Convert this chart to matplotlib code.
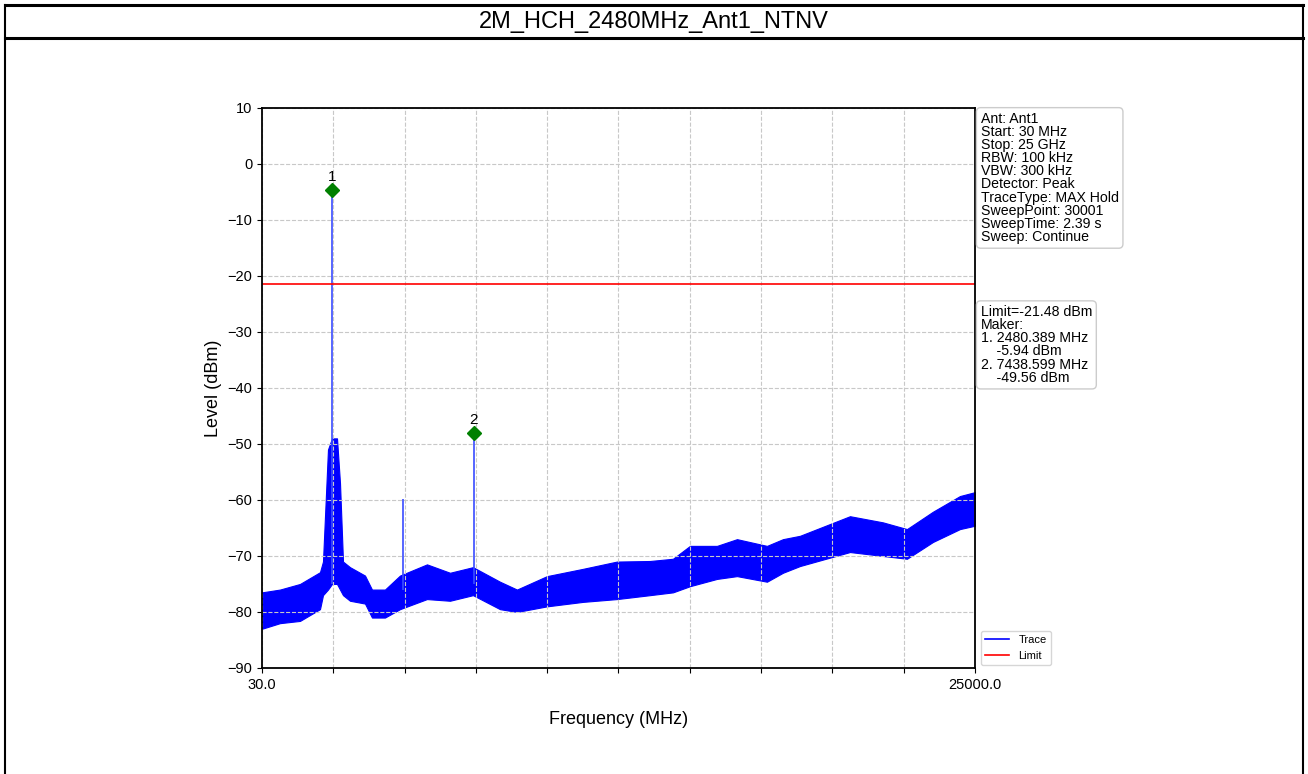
import matplotlib
matplotlib.use("Agg")
import matplotlib.pyplot as plt
from matplotlib.lines import Line2D

plt.rcParams["font.family"] = ["Liberation Sans", "DejaVu Sans"]

title = "2M_HCH_2480MHz_Ant1_NTNV"

# trace envelope (MHz, dBm)
env_freq = [30, 660, 1361, 2061, 2166, 2341, 2481, 2657, 2762, 2867, 3112,
            3637, 3882, 4337, 4863, 5808, 6614, 7419, 8365, 8960, 10011,
            11271, 12462, 13618, 14423, 15019, 15964, 16665, 17715, 18275,
            18871, 20622, 21777, 22618, 23528, 24474, 25000]
env_top = [-76.5, -76, -75, -72.9, -71, -51, -49, -49, -57, -71, -72,
           -73.5, -76, -76, -73.5, -71.5, -73, -72, -74.6, -76, -73.6,
           -72.3, -71, -70.9, -70.5, -68.2, -68.2, -67, -68.2, -67,
           -66.4, -62.9, -64, -65.2, -62.1, -59.3, -58.6]
env_bot = [-83, -82, -81.6, -79.5, -77, -76, -75, -75, -76, -77, -78,
           -78.5, -81, -81, -79.5, -77.7, -78, -77, -79.5, -80, -79,
           -78.2, -77.7, -77, -76.5, -75.4, -74.1, -73.6, -74.6, -73,
           -71.8, -69.3, -70, -70.5, -67.5, -65.2, -64.6]

# narrow spikes above the noise floor
spike_freq = [2480.389, 4960, 7438.599]
spike_top = [-4.6, -59.8, -48.0]
spike_base = [-75, -76, -75]

limit = -21.48
marker_freq = [2480.389, 7438.599]
marker_level = [-4.6, -48.0]
marker_names = ["1", "2"]

info_text = ("Ant: Ant1\nStart: 30 MHz\nStop: 25 GHz\nRBW: 100 kHz\n"
             "VBW: 300 kHz\nDetector: Peak\nTraceType: MAX Hold\n"
             "SweepPoint: 30001\nSweepTime: 2.39 s\nSweep: Continue")
marker_text = ("Limit=-21.48 dBm\nMaker:\n1. 2480.389 MHz\n    -5.94 dBm\n"
               "2. 7438.599 MHz\n    -49.56 dBm")

f_start, f_stop = 30.0, 25000.0

fig = plt.figure(figsize=(13.08, 7.74), dpi=100)

# outer frame with title row
for y in (0.993, 0.951):
    fig.add_artist(Line2D([0.004, 0.996], [y, y], color="black", lw=2.2,
                          transform=fig.transFigure))
for x in (0.004, 0.996):
    fig.add_artist(Line2D([x, x], [0.0, 0.993], color="black", lw=1.5,
                          transform=fig.transFigure))
fig.text(0.5, 0.972, title, ha="center", va="center", fontsize=17)

ax = fig.add_axes([0.2003, 0.1370, 0.5451, 0.7235])

ax.fill_between(env_freq, env_bot, env_top, color="blue", lw=0.8,
                edgecolor="blue")
ax.vlines(spike_freq, spike_base, spike_top, color="#3a4cff", lw=1.2)
ax.plot([], [], color="blue", lw=1.2, label="Trace")
ax.axhline(limit, color="red", lw=1.2, label="Limit")

ax.plot(marker_freq, marker_level, "D", color="green", ms=7, zorder=5)
for f, lv, name in zip(marker_freq, marker_level, marker_names):
    ax.text(f, lv + 1.0, name, ha="center", va="bottom", fontsize=11)

ticks = [f_start + i * (f_stop - f_start) / 10 for i in range(11)]
ax.set_xticks(ticks)
ax.set_xticklabels(["30.0"] + [""] * 9 + ["25000.0"])
ax.set_xlim(f_start, f_stop)
ax.set_ylim(-90, 10)
ax.set_yticks(range(-90, 11, 10))
ax.tick_params(labelsize=10.5)
ax.grid(True, ls="--", color="#c8c8c8", lw=0.8)
ax.set_xlabel("Frequency (MHz)", fontsize=13, labelpad=14)
ax.set_ylabel("Level (dBm)", fontsize=13)
for s in ax.spines.values():
    s.set_linewidth(1.3)

box = dict(boxstyle="round,pad=0.3", facecolor="white", edgecolor="#cccccc")
ax.text(1.008, 0.993, info_text, transform=ax.transAxes, ha="left", va="top",
        fontsize=10.2, linespacing=0.92, bbox=box)
ax.text(1.008, 0.648, marker_text, transform=ax.transAxes, ha="left", va="top",
        fontsize=10.2, linespacing=0.92, bbox=box)
ax.legend(loc="lower left", bbox_to_anchor=(1.0, -0.005), fontsize=8,
          frameon=True, handlelength=2.2)

fig.savefig("out.png", dpi=100, facecolor="white")
